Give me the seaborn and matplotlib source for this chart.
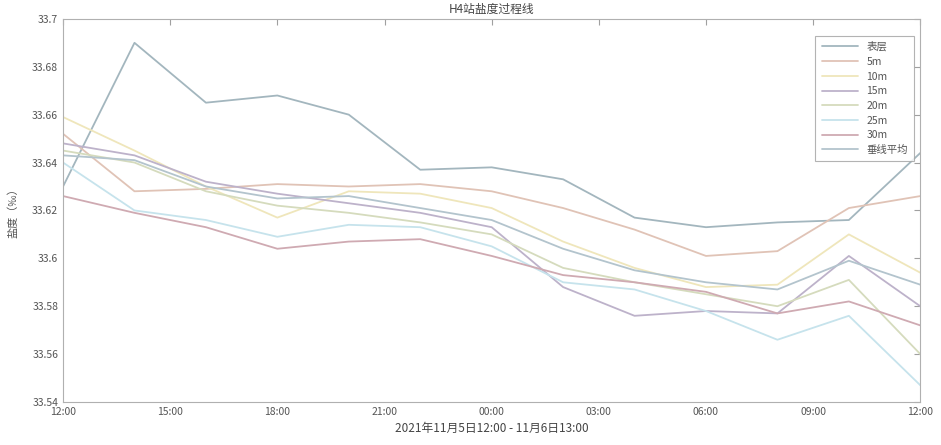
import seaborn as sns
import matplotlib.pyplot as plt
import matplotlib.dates as mdates
import pandas as pd

sns.set_style(style="white")
plt.rcParams['font.family'] = ['Noto Sans CJK SC', 'DejaVu Sans']
plt.rcParams['axes.unicode_minus'] = False

# 时间（每2小时一次）
times = ["2021-11-05 12:00", "2021-11-05 14:00", "2021-11-05 16:00", "2021-11-05 18:00",
         "2021-11-05 20:00", "2021-11-05 22:00", "2021-11-06 00:00", "2021-11-06 02:00",
         "2021-11-06 04:00", "2021-11-06 06:00", "2021-11-06 08:00", "2021-11-06 10:00",
         "2021-11-06 12:00"]

layers = ["表层", "5m", "10m", "15m", "20m", "25m", "30m", "垂线平均"]

sal_surface = [33.630, 33.690, 33.665, 33.668, 33.660, 33.637, 33.638, 33.633, 33.617, 33.613, 33.615, 33.616, 33.644]
sal_5m = [33.652, 33.628, 33.629, 33.631, 33.630, 33.631, 33.628, 33.621, 33.612, 33.601, 33.603, 33.621, 33.626]
sal_10m = [33.659, 33.645, 33.630, 33.617, 33.628, 33.627, 33.621, 33.607, 33.596, 33.588, 33.589, 33.610, 33.594]
sal_15m = [33.648, 33.643, 33.632, 33.627, 33.623, 33.619, 33.613, 33.588, 33.576, 33.578, 33.577, 33.601, 33.580]
sal_20m = [33.645, 33.640, 33.628, 33.622, 33.619, 33.615, 33.610, 33.596, 33.590, 33.585, 33.580, 33.591, 33.560]
sal_25m = [33.640, 33.620, 33.616, 33.609, 33.614, 33.613, 33.605, 33.590, 33.587, 33.578, 33.566, 33.576, 33.547]
sal_30m = [33.626, 33.619, 33.613, 33.604, 33.607, 33.608, 33.601, 33.593, 33.590, 33.586, 33.577, 33.582, 33.572]
sal_mean = [33.643, 33.641, 33.630, 33.625, 33.626, 33.621, 33.616, 33.604, 33.595, 33.590, 33.587, 33.599, 33.589]

colors = ["#a3b6be", "#e0c3b6", "#efe6bb", "#bdb2ca", "#d5dbbd", "#c6e3ec", "#cfaab2", "#b3c4cd"]

series = [sal_surface, sal_5m, sal_10m, sal_15m, sal_20m, sal_25m, sal_30m, sal_mean]
frames = []
for name, vals in zip(layers, series):
    frames.append(pd.DataFrame({"time": pd.to_datetime(times), "salinity": vals, "layer": name}))
df = pd.concat(frames, ignore_index=True)

fig = plt.figure(figsize=(9.41, 4.45), dpi=100)
ax = fig.add_axes([0.067, 0.0966, 0.911, 0.861])

sns.lineplot(data=df, x="time", y="salinity", hue="layer", hue_order=layers,
             palette=dict(zip(layers, colors)), linewidth=1.3, ax=ax)

ax.set_xlim(pd.to_datetime(times[0]), pd.to_datetime(times[-1]))
ax.set_ylim(33.54, 33.7)
ax.set_yticks([33.54, 33.56, 33.58, 33.6, 33.62, 33.64, 33.66, 33.68, 33.7])
ax.yaxis.set_major_formatter(plt.FormatStrFormatter('%g'))
ax.xaxis.set_major_locator(mdates.HourLocator(byhour=range(0, 24, 3)))
ax.xaxis.set_major_formatter(mdates.DateFormatter('%H:%M'))

for s in ax.spines.values():
    s.set_color("#b0b0b0")
    s.set_linewidth(0.8)
ax.tick_params(direction="in", length=4, width=0.8, color="#a0a0a0", labelsize=7.5,
               labelcolor="#555555", top=True, right=True)

ax.set_title("H4站盐度过程线", fontsize=8.5, color="#444444", pad=4)
ax.set_xlabel("2021年11月5日12:00 - 11月6日13:00", fontsize=8.5, color="#444444", labelpad=4)
ax.set_ylabel("盐度（‰）", fontsize=8, color="#555555", labelpad=10)

leg = ax.legend(loc="upper right", fontsize=7.5, frameon=True, fancybox=False,
                handlelength=3.5, borderpad=0.6, labelspacing=0.45,
                bbox_to_anchor=(0.999, 0.97))
leg.get_frame().set_edgecolor("#a0a0a0")
leg.get_frame().set_linewidth(0.8)
for t in leg.get_texts():
    t.set_color("#555555")

fig.savefig("out.png", dpi=100)
